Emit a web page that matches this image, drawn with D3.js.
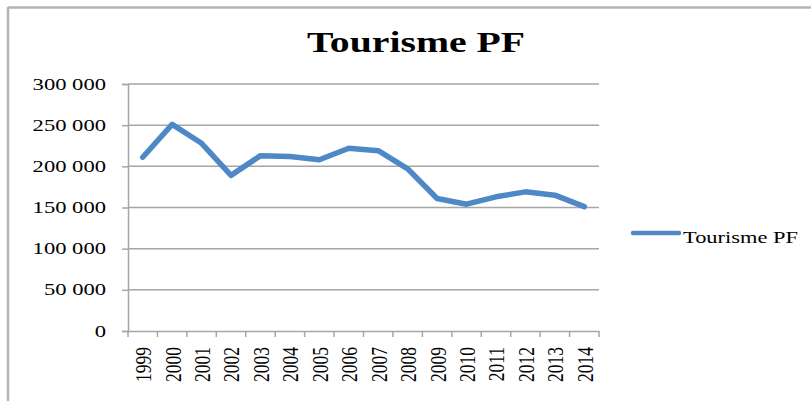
<html>
<head>
<script src="https://cdnjs.cloudflare.com/ajax/libs/d3/7.8.5/d3.min.js"></script>
<style>
  body { margin: 0; background: #fff; }
  text { font-family: "Liberation Serif", "Times New Roman", serif; fill: #000; }
</style>
</head>
<body>
<svg id="chart" width="811" height="401"></svg>
<script>
// data
var years = ["1999","2000","2001","2002","2003","2004","2005","2006",
             "2007","2008","2009","2010","2011","2012","2013","2014"];
var tourists = [211000, 251000, 228000, 189000, 213000, 212000, 208000, 222000,
                219000, 197000, 161000, 154000, 163000, 169000, 165000, 151000];
var yTicks = [0, 50000, 100000, 150000, 200000, 250000, 300000];
var seriesName = "Tourisme PF";

var stretch = 1.37; // text in the picture is widened sideways
var svg = d3.select("#chart");
var gray = "#a6a6a6";

// outer frame (only top + left visible)
svg.append("line").attr("x1", 8).attr("x2", 811).attr("y1", 7.5).attr("y2", 7.5)
   .attr("stroke", "#b4b4b4").attr("stroke-width", 2.5);
svg.append("line").attr("x1", 8).attr("x2", 8).attr("y1", 7).attr("y2", 401)
   .attr("stroke", "#b4b4b4").attr("stroke-width", 2.5);

var x = d3.scaleBand().domain(years).range([128, 599]);
var y = d3.scaleLinear().domain([0, 300000]).range([331, 84]);

var fmt = function(v) { return d3.format(",")(v).replace(/,/g, " "); };

// title
svg.append("text")
   .attr("transform", "translate(416,52) scale(" + stretch + ",1)")
   .attr("text-anchor", "middle")
   .style("font-size", "29px").style("font-weight", "bold")
   .text(seriesName);

// gridlines
svg.append("g").selectAll("line").data(yTicks.filter(d => d > 0)).enter()
   .append("line")
   .attr("x1", 128).attr("x2", 599)
   .attr("y1", d => y(d)).attr("y2", d => y(d))
   .attr("stroke", gray).attr("stroke-width", 1.5);

// y axis
var yAxis = svg.append("g").attr("transform", "translate(128,0)")
   .call(d3.axisLeft(y).tickValues(yTicks).tickSize(6).tickFormat(""));
yAxis.select(".domain").attr("stroke", gray).attr("stroke-width", 1.5);
yAxis.selectAll(".tick line").attr("stroke", gray).attr("stroke-width", 1.5);

svg.append("g").selectAll("text").data(yTicks).enter()
   .append("text")
   .attr("transform", d => "translate(106," + (y(d) + 5.5) + ") scale(" + stretch + ",1)")
   .attr("text-anchor", "end")
   .style("font-size", "16.5px")
   .text(fmt);

// x axis
var xAxis = svg.append("g").attr("transform", "translate(0,331)")
   .call(d3.axisBottom(x).tickSize(0).tickFormat(""));
xAxis.select(".domain").attr("stroke", gray).attr("stroke-width", 1.5);
xAxis.selectAll(".tick").remove();
svg.append("g").selectAll("line").data(d3.range(years.length + 1)).enter()
   .append("line")
   .attr("x1", i => 128 + i * x.step()).attr("x2", i => 128 + i * x.step())
   .attr("y1", 331).attr("y2", 337)
   .attr("stroke", gray).attr("stroke-width", 1.5);

svg.append("g").selectAll("text").data(years).enter()
   .append("text")
   .attr("transform", d => "translate(" + (x(d) + x.bandwidth() / 2) + ",347) scale(" + stretch + ",1) rotate(-90)")
   .attr("text-anchor", "end")
   .attr("dy", "0.35em")
   .style("font-size", "17.5px")
   .text(d => d);

// series line
var blue = "#4f88c6";
var line = d3.line()
   .x((d, i) => x(years[i]) + x.bandwidth() / 2)
   .y(d => y(d));
svg.append("path").datum(tourists)
   .attr("d", line)
   .attr("fill", "none")
   .attr("stroke", blue).attr("stroke-width", 5.5)
   .attr("stroke-linejoin", "round").attr("stroke-linecap", "round");

// legend
svg.append("line").attr("x1", 633).attr("x2", 679).attr("y1", 233).attr("y2", 233)
   .attr("stroke", blue).attr("stroke-width", 4.5).attr("stroke-linecap", "round");
svg.append("text")
   .attr("transform", "translate(683,243) scale(1.32,1)")
   .style("font-size", "17px")
   .text(seriesName);
</script>
</body>
</html>
